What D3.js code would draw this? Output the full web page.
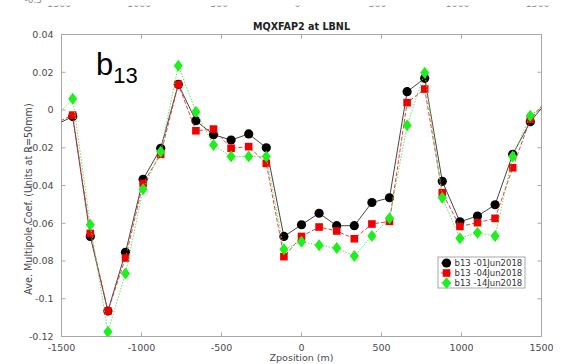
<!DOCTYPE html>
<html>
<head>
<meta charset="utf-8">
<script src="https://cdn.jsdelivr.net/npm/d3@7"></script>
<style>
  html, body { margin: 0; padding: 0; background: #fff; }
  svg { display: block; }
</style>
</head>
<body>
<svg id="chart" width="576" height="364"></svg>
<script>
// Measurement stations along the magnet (m); the outer two lie just past the axis limits
const zPositions = [-1540, -1430, -1320, -1210, -1100, -990, -880, -770, -660, -550, -440, -330, -220, -110,
  0, 110, 220, 330, 440, 550, 660, 770, 880, 990, 1100, 1210, 1320, 1430, 1540];

// Average b13 multipole (units at R=50mm) for each measurement date
const b13_01Jun2018 = [-0.008, -0.0035, -0.067, -0.1065, -0.0754, -0.0367, -0.0203, 0.0136, -0.0057, -0.0131, -0.0159, -0.0127, -0.0200, -0.0670,
  -0.0608, -0.0547, -0.0613, -0.0613, -0.0490, -0.0465, 0.0097, 0.0168, -0.0378, -0.0592, -0.0562, -0.0502, -0.0235, -0.0062, 0.005];
const b13_04Jun2018 = [-0.007, -0.0027, -0.0654, -0.1065, -0.0784, -0.0389, -0.0235, 0.0136, -0.0110, -0.0101, -0.0203, -0.0194, -0.0283, -0.0777,
  -0.0670, -0.0620, -0.0641, -0.0682, -0.0604, -0.0590, 0.0039, 0.0111, -0.0438, -0.0617, -0.0597, -0.0574, -0.0306, -0.0049, 0.006];
const b13_14Jun2018 = [-0.004, 0.0060, -0.0608, -0.1175, -0.0866, -0.0420, -0.0221, 0.0235, -0.0009, -0.0185, -0.0247, -0.0247, -0.0247, -0.0738,
  -0.0698, -0.0717, -0.0731, -0.0774, -0.0668, -0.0574, -0.0081, 0.0198, -0.0465, -0.0680, -0.0650, -0.0668, -0.0247, -0.0030, 0.004];

const xTicks = [-1500, -1000, -500, 0, 500, 1000, 1500];
const yTicks = [0.04, 0.02, 0, -0.02, -0.04, -0.06, -0.08, -0.1, -0.12];
const yTickLabels = ["0.04", "0.02", "0", "-0.02", "-0.04", "-0.06", "-0.08", "-0.1", "-0.12"];
const seriesNames = ["b13 -01Jun2018", "b13 -04Jun2018", "b13 -14Jun2018"];

const svg = d3.select("#chart");
const W = 576, H = 364;
const m = { left: 61.5, right: 541.5, top: 34.5, bottom: 336.5 };

const x = d3.scaleLinear().domain([-1500, 1500]).range([m.left, m.right]);
const y = d3.scaleLinear().domain([-0.12, 0.04]).range([m.bottom, m.top]);

const font = "'DejaVu Sans', sans-serif";
const axisGrey = "#a8a8a8";
const textGrey = "#4a4a4a";

// Remnant of the tick labels from the figure above, cut off at the page edge
const remnant = svg.append("g");
remnant.append("clipPath").attr("id", "remnantClip")
  .append("rect").attr("x", 0).attr("y", 5.5).attr("width", W).attr("height", 2);
remnant.append("g").attr("clip-path", "url(#remnantClip)")
  .selectAll("text").data(xTicks).join("text")
  .attr("x", d => x(d) - 4).attr("y", 7.2)
  .attr("text-anchor", "middle")
  .attr("font-family", font).attr("font-size", 9.5).attr("fill", "#8a8a8a")
  .text(d => d);
remnant.append("text").attr("x", 42).attr("y", 3)
  .attr("text-anchor", "end")
  .attr("font-family", font).attr("font-size", 9).attr("fill", "#8a8a8a")
  .text("-0.5");

// Plot frame with inward ticks on all four sides
const frame = svg.append("g");
frame.append("rect")
  .attr("x", m.left).attr("y", m.top)
  .attr("width", m.right - m.left).attr("height", m.bottom - m.top)
  .attr("fill", "#fff").attr("stroke", axisGrey).attr("stroke-width", 1);

const tickLen = 4;
frame.selectAll("line.xt").data(xTicks.slice(1, -1)).join("line")
  .attr("x1", d => x(d)).attr("x2", d => x(d))
  .attr("y1", m.bottom).attr("y2", m.bottom - tickLen)
  .attr("stroke", axisGrey);
frame.selectAll("line.xtt").data(xTicks.slice(1, -1)).join("line")
  .attr("x1", d => x(d)).attr("x2", d => x(d))
  .attr("y1", m.top).attr("y2", m.top + tickLen)
  .attr("stroke", axisGrey);
frame.selectAll("line.yt").data(yTicks.slice(1, -1)).join("line")
  .attr("x1", m.left).attr("x2", m.left + tickLen)
  .attr("y1", d => y(d)).attr("y2", d => y(d))
  .attr("stroke", axisGrey);
frame.selectAll("line.ytr").data(yTicks.slice(1, -1)).join("line")
  .attr("x1", m.right).attr("x2", m.right - tickLen)
  .attr("y1", d => y(d)).attr("y2", d => y(d))
  .attr("stroke", axisGrey);

// Tick labels
svg.append("g").selectAll("text").data(xTicks).join("text")
  .attr("x", d => x(d)).attr("y", m.bottom + 14)
  .attr("text-anchor", "middle")
  .attr("font-family", font).attr("font-size", 9.5).attr("fill", textGrey)
  .text(d => d);
svg.append("g").selectAll("text").data(yTicks).join("text")
  .attr("x", m.left - 8).attr("y", d => y(d)).attr("dy", "0.35em")
  .attr("text-anchor", "end")
  .attr("font-family", font).attr("font-size", 9.5).attr("fill", textGrey)
  .text((d, i) => yTickLabels[i]);

// Axis titles and plot title
svg.append("text")
  .attr("x", (m.left + m.right) / 2).attr("y", 361)
  .attr("text-anchor", "middle")
  .attr("font-family", font).attr("font-size", 9.5).attr("fill", textGrey)
  .text("Zposition (m)");
svg.append("text")
  .attr("transform", "translate(32,199) rotate(-90)")
  .attr("text-anchor", "middle")
  .attr("font-family", font).attr("font-size", 9.6).attr("fill", textGrey)
  .text("Ave. Multipole Coef. (Units at R=50mm)");
svg.append("text")
  .attr("x", (m.left + m.right) / 2).attr("y", 29.5)
  .attr("text-anchor", "middle")
  .attr("font-family", font).attr("font-size", 9.6).attr("font-weight", "bold").attr("fill", "#222")
  .text("MQXFAP2 at LBNL");

// Large b13 annotation
const ann = svg.append("text")
  .attr("x", 96).attr("y", 75)
  .attr("font-family", "'Liberation Sans', Arial, sans-serif").attr("fill", "#000");
ann.append("tspan").attr("font-size", 31).text("b");
ann.append("tspan").attr("font-size", 22).attr("dy", 8).text("13");

// Series
svg.append("clipPath").attr("id", "plotClip")
  .append("rect").attr("x", m.left).attr("y", m.top)
  .attr("width", m.right - m.left).attr("height", m.bottom - m.top);
const plot = svg.append("g").attr("clip-path", "url(#plotClip)");

const series = [
  { name: seriesNames[0], values: b13_01Jun2018, line: "#303030", dash: null, marker: "circle", fill: "#000" },
  { name: seriesNames[1], values: b13_04Jun2018, line: "#e03030", dash: "4,2", marker: "square", fill: "#f00000" },
  { name: seriesNames[2], values: b13_14Jun2018, line: "#55dd55", dash: "1.5,1.5", marker: "diamond", fill: "#1ef01e" }
];

const lineGen = d3.line().x(d => x(d[0])).y(d => y(d[1]));

function drawMarker(g, type, fill, cx, cy) {
  if (type === "circle") {
    g.append("circle").attr("cx", cx).attr("cy", cy).attr("r", 4.6).attr("fill", fill);
  } else if (type === "square") {
    g.append("rect").attr("x", cx - 3.8).attr("y", cy - 3.8).attr("width", 7.6).attr("height", 7.6).attr("fill", fill);
  } else {
    g.append("path")
      .attr("d", `M${cx},${cy - 6}L${cx + 4.6},${cy}L${cx},${cy + 6}L${cx - 4.6},${cy}Z`)
      .attr("fill", fill);
  }
}

series.forEach(s => {
  const pts = zPositions.map((z, i) => [z, s.values[i]]);
  plot.append("path").datum(pts)
    .attr("d", lineGen)
    .attr("fill", "none").attr("stroke", s.line).attr("stroke-width", 0.9)
    .attr("stroke-dasharray", s.dash);
  const mg = plot.append("g");
  pts.forEach(p => drawMarker(mg, s.marker, s.fill, x(p[0]), y(p[1])));
});

// Legend
const lg = svg.append("g");
const lgX = 438, lgY = 257, lgW = 87, lgH = 31;
lg.append("rect").attr("x", lgX).attr("y", lgY).attr("width", lgW).attr("height", lgH)
  .attr("fill", "#fff").attr("stroke", axisGrey).attr("stroke-width", 1);
series.forEach((s, i) => {
  const cy = lgY + 6 + i * 10;
  lg.append("line").attr("x1", lgX + 3).attr("x2", lgX + 13).attr("y1", cy).attr("y2", cy)
    .attr("stroke", s.line).attr("stroke-width", 0.9).attr("stroke-dasharray", s.dash);
  drawMarker(lg, s.marker, s.fill, lgX + 8.5, cy);
  lg.append("text").attr("x", lgX + 16.5).attr("y", cy).attr("dy", "0.35em")
    .attr("font-family", font).attr("font-size", 8.5).attr("fill", "#333")
    .text(s.name);
});
</script>
</body>
</html>
